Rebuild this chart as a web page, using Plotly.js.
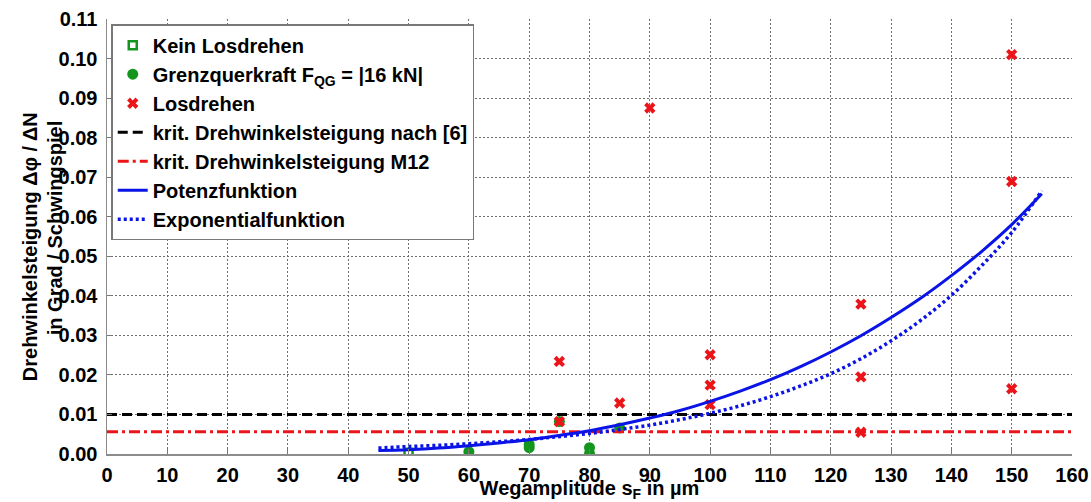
<!DOCTYPE html>
<html>
<head>
<meta charset="utf-8">
<script src="https://cdn.plot.ly/plotly-3.0.1.min.js"></script>
<style>html,body{margin:0;padding:0;background:#fff;}#chart{width:1091px;height:502px;}</style>
</head>
<body>
<div id="chart"></div>
<script>
// ---- data ----
const keinX = [50];
const keinY = [0.0003];

const grenzX = [60, 70, 70, 75, 80, 80, 85];
const grenzY = [0.0006, 0.0016, 0.0024, 0.0082, 0.0016, 0.0001, 0.0066];

const losX = [75, 75, 85, 90, 100, 100, 100, 125, 125, 125, 150, 150, 150];
const losY = [0.0234, 0.0082, 0.0129, 0.0875, 0.0251, 0.0174, 0.0125, 0.0379, 0.0195, 0.0055, 0.101, 0.0689, 0.0165];

const kritX = [0, 160];
const kritNach = [0.01, 0.01];
const kritM12 = [0.0056, 0.0056];

const curveX = [45, 50, 55, 60, 65, 70, 75, 80, 85, 90, 95, 100, 105, 110, 115, 120, 125, 130, 135, 140, 145, 150, 155];
const potenzY = [0.0009, 0.0011, 0.0015, 0.0021, 0.0028, 0.0036, 0.0047, 0.0059, 0.0074, 0.0091, 0.0110, 0.0133, 0.0159, 0.0188, 0.0221, 0.0258, 0.0299, 0.0345, 0.0395, 0.0451, 0.0512, 0.0580, 0.0658];
const expoY = [0.0015, 0.0019, 0.0022, 0.0026, 0.0031, 0.0037, 0.0044, 0.0052, 0.0062, 0.0073, 0.0087, 0.0103, 0.0122, 0.0145, 0.0172, 0.0203, 0.0241, 0.0286, 0.0339, 0.0401, 0.0476, 0.0560, 0.0666];

const xTicks = [0,10,20,30,40,50,60,70,80,90,100,110,120,130,140,150,160];
const yTicks = [0,0.01,0.02,0.03,0.04,0.05,0.06,0.07,0.08,0.09,0.10,0.11];

const xTitle = 'Wegamplitude s<sub>F</sub> in µm';
const yTitleLines = ['Drehwinkelsteigung Δφ / ΔN', 'in Grad / Schwingspiel'];

const GREEN = 'rgb(20,150,30)';
const RED = 'rgb(235,20,25)';
const BLUE = 'rgb(10,20,230)';
const FONT = 'Liberation Sans, Arial, sans-serif';
const boldFont = {family: FONT, size: 20, color: 'black', weight: 'bold'};

const traces = [
  {x: keinX, y: keinY, mode: 'markers', name: 'Kein Losdrehen',
   marker: {symbol: 'square-open', size: 8, color: GREEN, line: {width: 2.5, color: GREEN}}},
  {x: grenzX, y: grenzY, mode: 'markers', name: 'Grenzquerkraft F<sub>QG</sub> = |16 kN|',
   marker: {symbol: 'circle', size: 11, color: GREEN}},
  {x: losX, y: losY, mode: 'markers', name: 'Losdrehen',
   marker: {symbol: 'x', size: 10, color: RED}},
  {x: kritX, y: kritNach, mode: 'lines', name: 'krit. Drehwinkelsteigung nach [6]',
   line: {color: 'black', width: 3, dash: '10px,5px'}},
  {x: kritX, y: kritM12, mode: 'lines', name: 'krit. Drehwinkelsteigung M12',
   line: {color: RED, width: 3, dash: '11px,4px,3px,4px'}},
  {x: curveX, y: potenzY, mode: 'lines', name: 'Potenzfunktion',
   line: {color: BLUE, width: 3, shape: 'spline'}},
  {x: curveX, y: expoY, mode: 'lines', name: 'Exponentialfunktion',
   line: {color: BLUE, width: 3.5, dash: '3px,3px', shape: 'spline'}}
];

const axisCommon = {
  showgrid: true, gridcolor: 'rgb(110,110,110)', griddash: '2px,2px', gridwidth: 1,
  zeroline: false, showline: true, linecolor: 'rgb(140,140,140)', linewidth: 1.5,
  ticks: 'inside', ticklen: 5, tickcolor: 'rgb(120,120,120)', tickwidth: 1,
  tickfont: boldFont
};

const layout = {
  width: 1091, height: 502,
  margin: {l: 106.5, r: 19, t: 19, b: 47.5},
  paper_bgcolor: 'white', plot_bgcolor: 'white',
  showlegend: true,
  legend: {x: 0.0044, y: 0.988, xanchor: 'left', yanchor: 'top',
    bgcolor: 'white', bordercolor: 'rgb(120,120,120)', borderwidth: 1.5,
    font: boldFont},
  xaxis: Object.assign({}, axisCommon, {
    range: [0, 160], tickvals: xTicks, ticktext: xTicks.map(String),
    ticklabelstandoff: 2,
    title: {text: xTitle, standoff: 12, font: boldFont}
  }),
  yaxis: Object.assign({}, axisCommon, {
    range: [0, 0.11], tickvals: yTicks, ticktext: yTicks.map(v => v.toFixed(2)),
    ticklabelstandoff: 4
  }),
  annotations: [
    {text: yTitleLines[0], xref: 'paper', yref: 'paper', x: -0.0795, y: 0.476,
     xanchor: 'center', yanchor: 'middle', textangle: -90, showarrow: false, font: boldFont},
    {text: yTitleLines[1], xref: 'paper', yref: 'paper', x: -0.0545, y: 0.520,
     xanchor: 'center', yanchor: 'middle', textangle: -90, showarrow: false, font: boldFont}
  ]
};

Plotly.newPlot('chart', traces, layout, {displayModeBar: false, staticPlot: true});
</script>
</body>
</html>
